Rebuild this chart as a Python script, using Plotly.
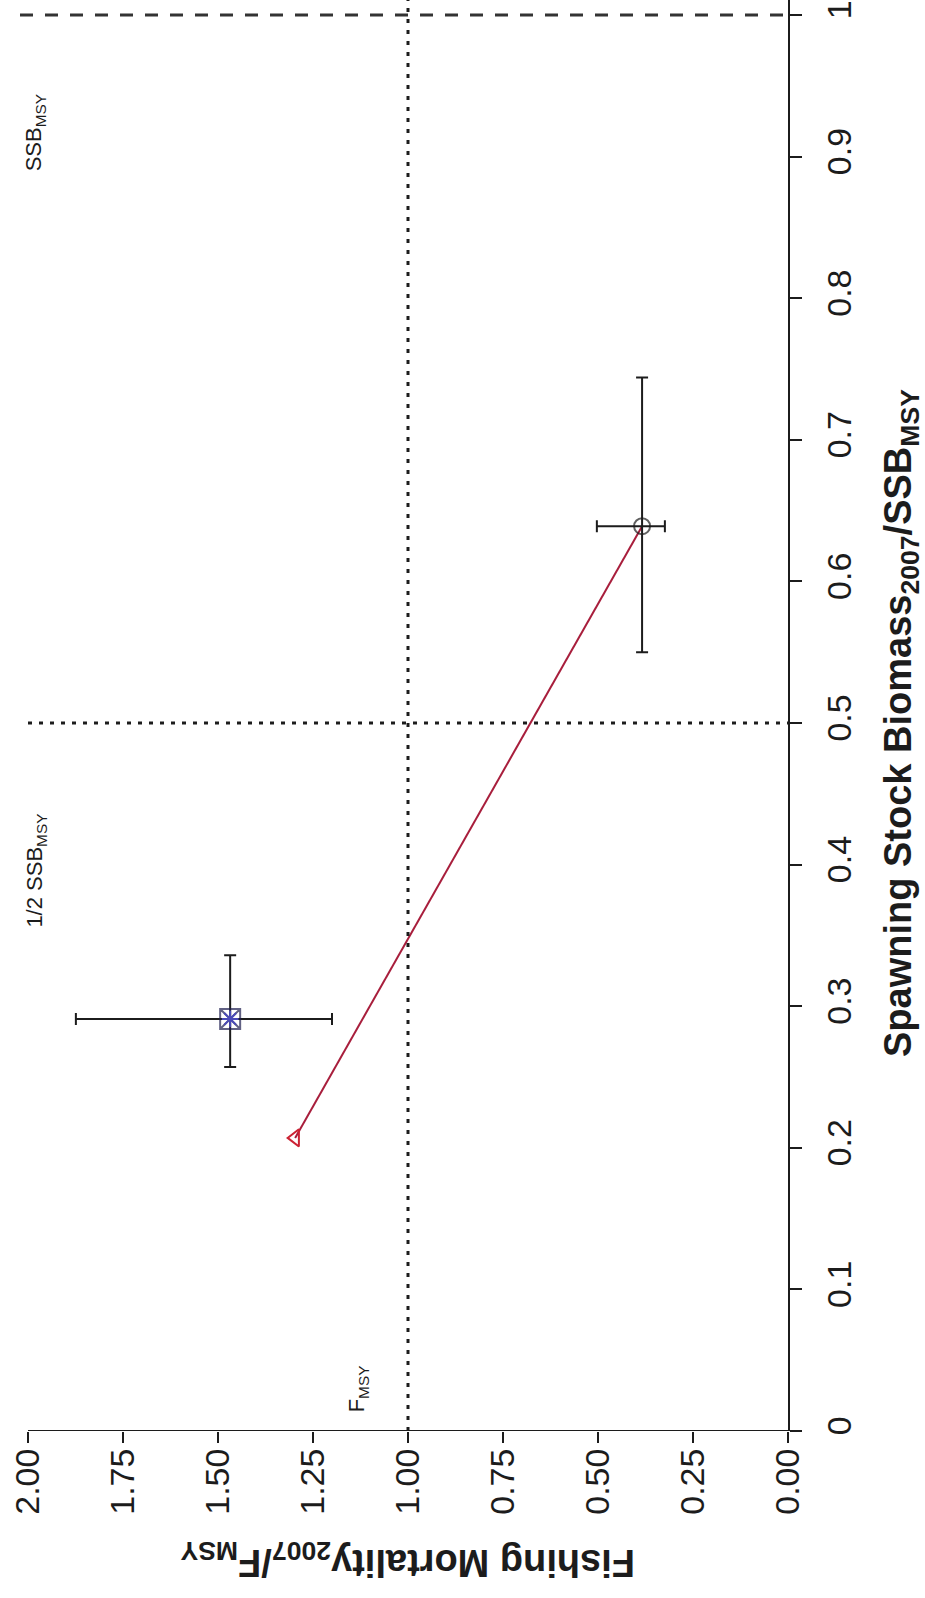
import plotly.graph_objects as go

# Fishing mortality (F/F_MSY) and spawning stock biomass (SSB/SSB_MSY), 2007
# Assessment estimates with uncertainty intervals
f_val = [1.468, 0.384]
f_lo = [1.200, 0.324]
f_hi = [1.874, 0.503]
ssb_val = [0.291, 0.639]
ssb_lo = [0.257, 0.550]
ssb_hi = [0.336, 0.744]

# Projection path: triangle start point joined to the circle estimate
path_f = [1.297, 0.384]
path_ssb = [0.207, 0.639]

f_ticks = [2.0, 1.75, 1.5, 1.25, 1.0, 0.75, 0.5, 0.25, 0.0]
f_tick_text = ["2.00", "1.75", "1.50", "1.25", "1.00", "0.75", "0.50", "0.25", "0.00"]
ssb_ticks = [0, 0.1, 0.2, 0.3, 0.4, 0.5, 0.6, 0.7, 0.8, 0.9, 1.0]
ssb_tick_text = ["0", "0.1", "0.2", "0.3", "0.4", "0.5", "0.6", "0.7", "0.8", "0.9", "1"]

FONT = "Liberation Sans, Arial, Helvetica, sans-serif"
INK = "#1c1c1c"

W, H = 925, 1598
PLOT_RIGHT, PLOT_BOTTOM = 788, 1431
F_LEFT = 2.0 + 28 / 380.0
SSB_TOP = 1431 / 1416.0

fig = go.Figure()

# reference lines
fig.add_shape(type="line", x0=1.0, x1=1.0, y0=0, y1=SSB_TOP, xref="x", yref="y",
              line=dict(color=INK, width=3, dash="4px,7px"))
fig.add_shape(type="line", x0=2.0, x1=0.0, y0=0.5, y1=0.5, xref="x", yref="y",
              line=dict(color=INK, width=3, dash="4px,7px"))
fig.add_shape(type="line", x0=2.0 + 8 / 380.0, x1=0.0, y0=1.0, y1=1.0, xref="x", yref="y",
              line=dict(color="#333333", width=3, dash="13px,12px"))
# bottom axis line (F axis at SSB = 0)
fig.add_shape(type="line", x0=2.0, x1=0.0, y0=0, y1=0, xref="x", yref="y",
              line=dict(color=INK, width=2))

# path between the two points
fig.add_trace(go.Scatter(
    x=path_f, y=path_ssb, mode="lines",
    line=dict(color="#a81e3c", width=2), showlegend=False, hoverinfo="skip"))

# estimates with error bars
err_x_plus = [h - v for h, v in zip(f_hi, f_val)]
err_x_minus = [v - l for v, l in zip(f_val, f_lo)]
err_y_plus = [h - v for h, v in zip(ssb_hi, ssb_val)]
err_y_minus = [v - l for v, l in zip(ssb_val, ssb_lo)]

fig.add_trace(go.Scatter(
    x=f_val, y=ssb_val, mode="markers",
    marker=dict(symbol=["square-x-open", "circle-open"], size=[20, 16],
                color=["#1e1e50", INK], line=dict(width=2)),
    error_x=dict(type="data", array=err_x_plus, arrayminus=err_x_minus,
                 color=INK, thickness=2, width=6),
    error_y=dict(type="data", array=err_y_plus, arrayminus=err_y_minus,
                 color=INK, thickness=2, width=6),
    showlegend=False))

# blue star inside the square marker
fig.add_trace(go.Scatter(
    x=[f_val[0]], y=[ssb_val[0]], mode="markers",
    marker=dict(symbol="asterisk-open", size=14, color="#4a4ab8", line=dict(width=2)),
    showlegend=False, hoverinfo="skip"))

# start of the path
fig.add_trace(go.Scatter(
    x=[path_f[0]], y=[path_ssb[0]], mode="markers",
    marker=dict(symbol="triangle-left-open", size=15, color="#cc2233", line=dict(width=2)),
    showlegend=False))

annotations = [
    dict(text="SSB<sub>MSY</sub>", x=1.982, y=0.917),
    dict(text="1/2 SSB<sub>MSY</sub>", x=1.978, y=0.396),
    dict(text="F<sub>MSY</sub>", x=1.132, y=0.030),
]
for a in annotations:
    fig.add_annotation(text=a["text"], x=a["x"], y=a["y"], xref="x", yref="y",
                       textangle=-90, showarrow=False, xanchor="center", yanchor="middle",
                       font=dict(family=FONT, size=22, color=INK))

# axis titles
fig.add_annotation(text="<b>Fishing Mortality<sub>2007</sub>/F<sub>MSY</sub></b>",
                   x=1.0, xref="x", y=(PLOT_BOTTOM - 1560) / PLOT_BOTTOM, yref="paper",
                   textangle=180, showarrow=False, xanchor="center", yanchor="middle",
                   font=dict(family=FONT, size=38, color=INK))
fig.add_annotation(text="<b>Spawning Stock Biomass<sub>2007</sub>/SSB<sub>MSY</sub></b>",
                   x=901 / PLOT_RIGHT, xref="paper", y=0.5, yref="y",
                   textangle=-90, showarrow=False, xanchor="center", yanchor="middle",
                   font=dict(family=FONT, size=38, color=INK))

fig.update_layout(
    width=W, height=H,
    margin=dict(l=0, r=W - PLOT_RIGHT, t=0, b=H - PLOT_BOTTOM, pad=0),
    plot_bgcolor="white", paper_bgcolor="white",
    xaxis=dict(range=[F_LEFT, 0], tickvals=f_ticks, ticktext=f_tick_text,
               tickangle=-90, ticks="outside", ticklen=11, tickwidth=2, tickcolor=INK,
               showline=False, showgrid=False, zeroline=False,
               tickfont=dict(family=FONT, size=34, color=INK), ticklabelstandoff=-8),
    yaxis=dict(range=[0, SSB_TOP], side="right", tickvals=ssb_ticks, ticktext=ssb_tick_text,
               tickangle=-90, ticks="outside", ticklen=12, tickwidth=2, tickcolor=INK,
               showline=True, linecolor=INK, linewidth=2, showgrid=False, zeroline=False,
               tickfont=dict(family=FONT, size=34, color=INK), ticklabelstandoff=8),
)

fig.write_html("out.html")
